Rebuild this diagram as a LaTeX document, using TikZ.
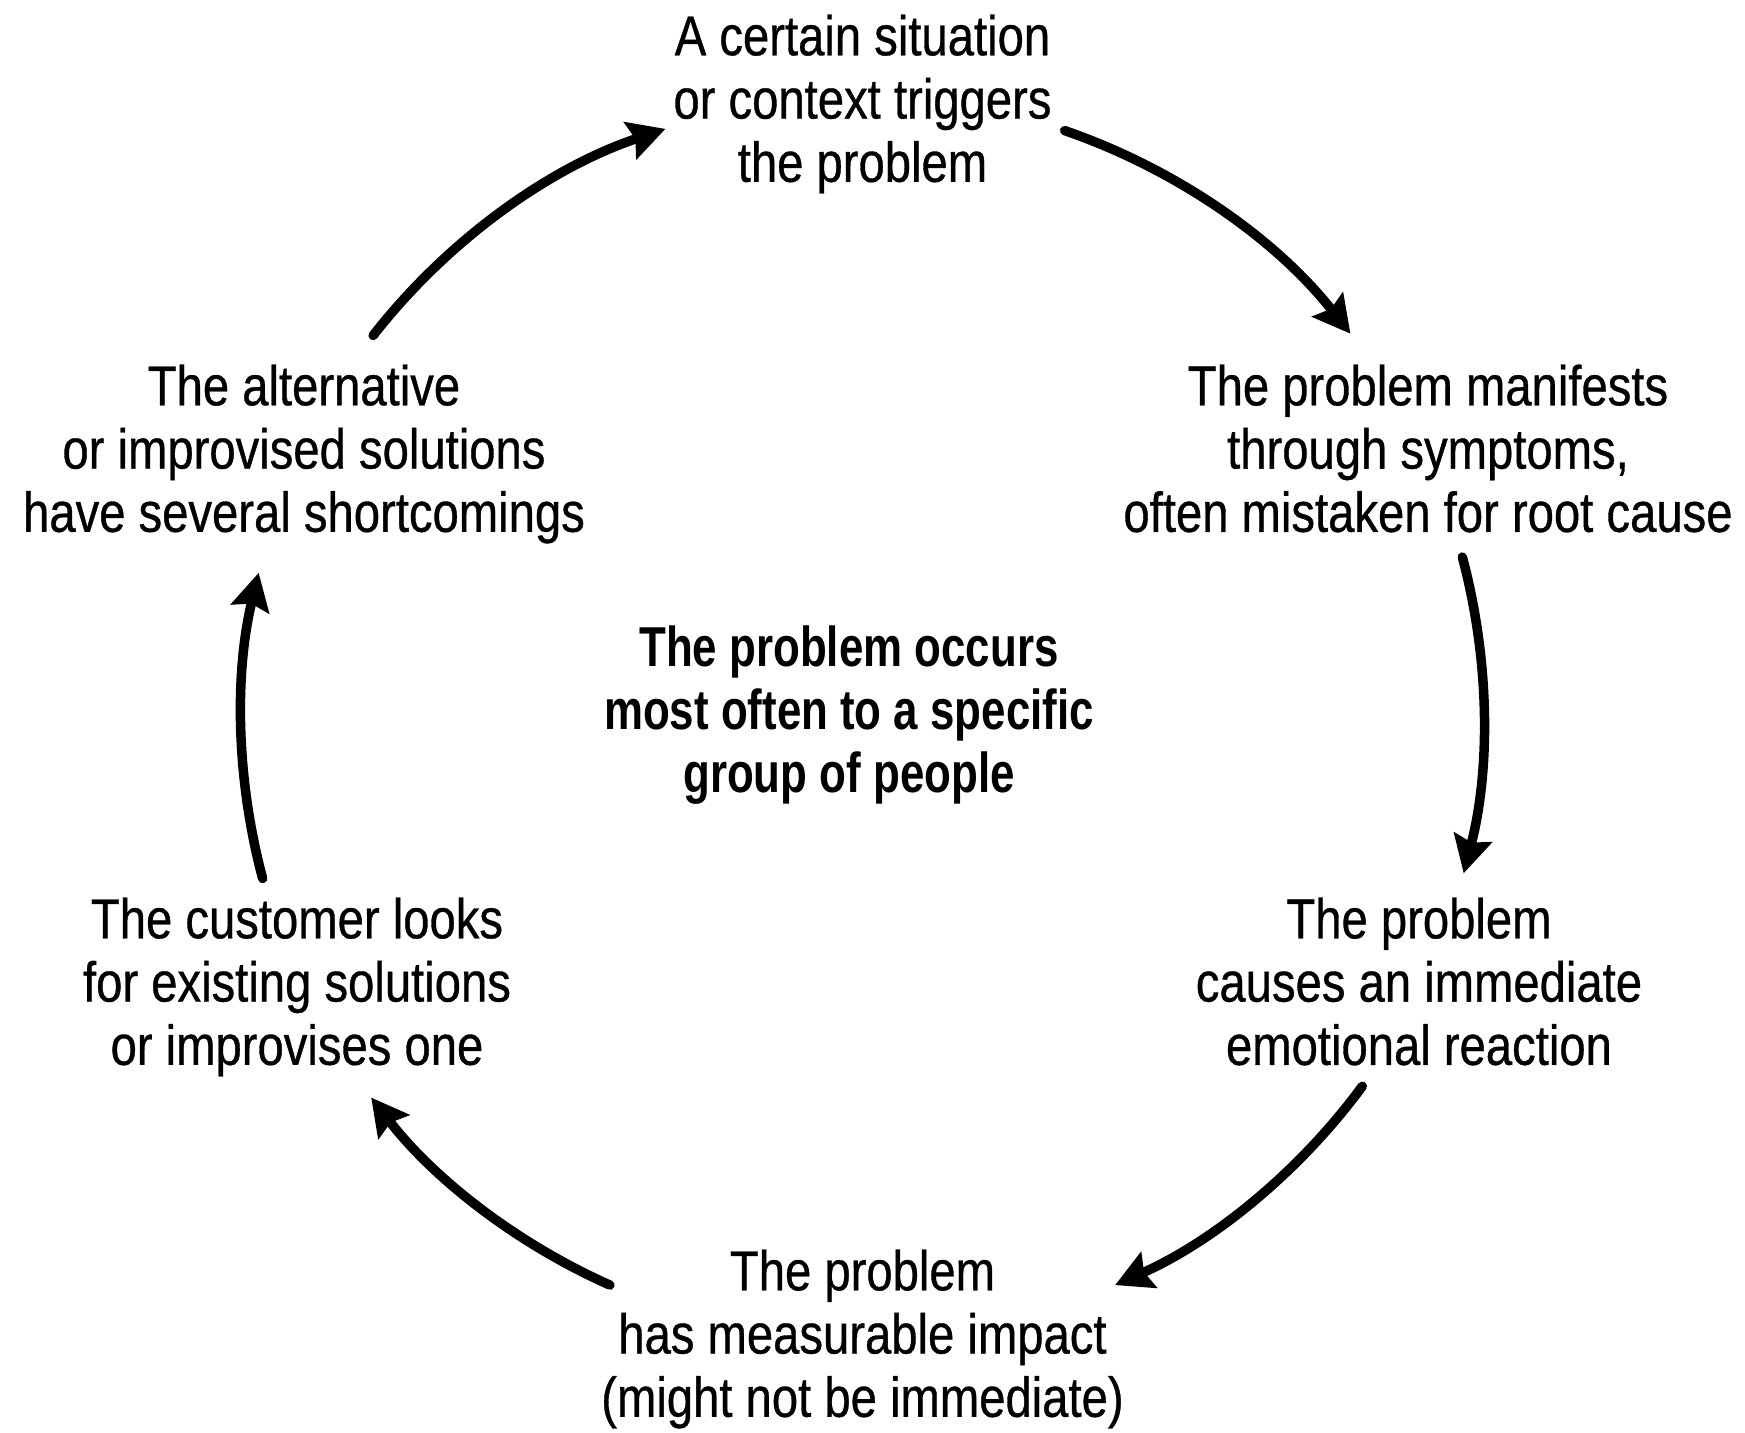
\documentclass[tikz,border=0pt]{standalone}
\usepackage{fontspec}
\setmainfont[FakeStretch=0.84, FakeBold=0.6]{Liberation Sans}
\newfontfamily\midfont[FakeStretch=0.78]{Liberation Sans}
\usepackage{tikz}
\usetikzlibrary{arrows.meta}

\begin{document}
\begin{tikzpicture}[
	txt/.style={align=center, font=\fontsize{16}{18}\selectfont, inner sep=0pt},
	mid/.style={txt, font=\fontsize{16}{18}\selectfont\midfont\bfseries},
	arr/.style={-{Stealth[length=10.5pt, width=11pt, inset=1.5pt]}, line width=2.7pt,
	            line cap=round, draw=black}
	]
\useasboundingbox (0,0) rectangle (17.45,-14.33);
\coordinate (ctr) at (8.625,-7.178);
\def\rad{6.21}

\node[txt] (sit) at (8.625,-1.04) {A certain situation\\ or context triggers\\ the problem};
\node[txt] (sym) at (14.28,-4.485) {The problem manifests\\ through symptoms,\\ often mistaken for root cause};
\node[txt] (emo) at (14.19,-9.815) {The problem\\ causes an immediate\\ emotional reaction};
\node[txt] (imp) at (8.625,-13.39) {The problem\\ has measurable impact\\ (might not be immediate)};
\node[txt] (look) at (2.97,-9.87) {The customer looks\\ for existing solutions\\ or improvises one};
\node[txt] (alt) at (3.04,-4.54) {The alternative\\ or improvised solutions\\ have several shortcomings};
\node[mid] (grp) at (8.49,-7.15) {The problem occurs\\ most often to a specific\\ group of people};

% arcs on one circle round the centre
\path (ctr) ++(71:\rad) coordinate (s1);
\path (ctr) ++(15:\rad) coordinate (s2);
\path (ctr) ++(-36.4:\rad) coordinate (s3);
\path (ctr) ++(246:\rad) coordinate (s4);
\path (ctr) ++(195:\rad) coordinate (s5);
\path (ctr) ++(142:\rad) coordinate (s6);
\draw[arr] (s1) arc[start angle=71, end angle=38.2, radius=\rad];
\draw[arr] (s2) arc[start angle=15, end angle=-14.5, radius=\rad];
\draw[arr] (s3) arc[start angle=-36.4, end angle=-66, radius=\rad];
\draw[arr] (s4) arc[start angle=246, end angle=217.7, radius=\rad];
\draw[arr] (s5) arc[start angle=195, end angle=166.5, radius=\rad];
\draw[arr] (s6) arc[start angle=142, end angle=108.5, radius=\rad];
\end{tikzpicture}
\end{document}
